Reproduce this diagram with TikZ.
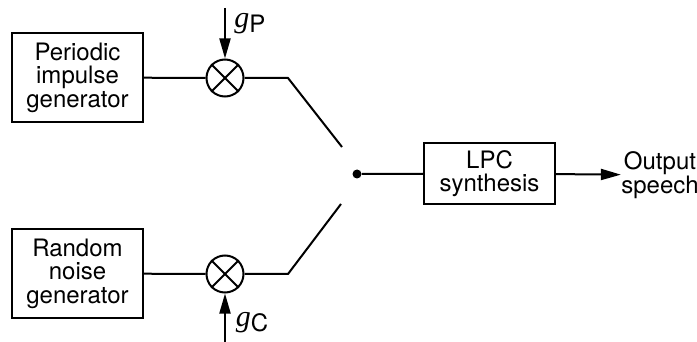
\documentclass[tikz,border=0pt]{standalone}
\usepackage{fontspec}
\setmainfont{TeX Gyre Heros}
\setsansfont{TeX Gyre Heros}
\newfontfamily\gainfont{Liberation Serif}
\usepackage{tikz}
\usetikzlibrary{arrows.meta,positioning}

\newcommand{\gain}[1]{{\gainfont\itshape\fontsize{15}{15}\selectfont g}\raisebox{-2.5pt}{#1}}

\begin{document}
\begin{tikzpicture}[
  x=0.5pt, y=-0.5pt,
  font=\fontsize{12}{11.8}\selectfont,
  block/.style={draw, line width=1pt, align=center, minimum width=65.5pt,
    minimum height=44.5pt, inner sep=2pt},
  mixer/.style={draw, circle, line width=1pt, minimum size=18.5pt, inner sep=0pt},
  wire/.style={line width=1pt},
  arrow/.style={-{Triangle[length=10pt, width=5.5pt]}, line width=1pt}
]
\useasboundingbox (0,0) rectangle (697,342);

\node[block] (pulse) at (77.5,77.5) {Periodic\\impulse\\generator};
\node[block] (noise) at (77.5,273.5) {Random\\noise\\generator};
\node[mixer] (mixP) at (225,78) {};
\node[mixer] (mixC) at (225,274) {};
\foreach \m in {mixP,mixC} {
  \draw[wire] (\m.north west) -- (\m.south east);
  \draw[wire] (\m.north east) -- (\m.south west);
}
\coordinate (gPin) at (225,8);
\coordinate (gCin) at (225,342);
\node (gP) at (250,24) {\gain{P}};
\node (gC) at (252,323) {\gain{C}};

% switch
\coordinate (bendP) at (288,78);
\coordinate (tipP) at (342,147);
\coordinate (bendC) at (288,274);
\coordinate (tipC) at (341,204);
\node[circle, fill, minimum size=4.5pt, inner sep=0pt] (pivot) at (357,174) {};

\node[block, minimum height=30.5pt] (lpc) at (489.5,173.5) {LPC\\synthesis};
\node[align=center, inner sep=0pt] (out) at (660,175) {Output\\speech};

\draw[wire] (pulse) -- (mixP);
\draw[wire] (noise) -- (mixC);
\draw[arrow] (gPin) -- (mixP);
\draw[arrow] (gCin) -- (mixC);
\draw[wire] (mixP) -- (bendP) -- (tipP);
\draw[wire] (mixC) -- (bendC) -- (tipC);
\draw[wire] (pivot) -- (lpc);
\draw[arrow] (lpc) -- (out);
\end{tikzpicture}
\end{document}
